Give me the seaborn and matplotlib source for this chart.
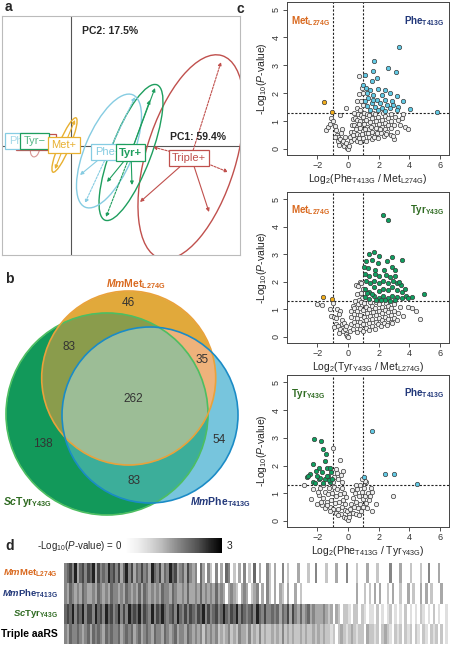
import numpy as np
import pandas as pd
import seaborn as sns
import matplotlib.pyplot as plt
from matplotlib.patches import Ellipse, Circle
from matplotlib.colors import to_rgb

sns.set_style("white")
plt.rcParams['font.family'] = ['Liberation Sans', 'DejaVu Sans']
plt.rcParams['mathtext.fontset'] = 'custom'
plt.rcParams['mathtext.rm'] = 'Liberation Sans'
plt.rcParams['mathtext.it'] = 'Liberation Sans:italic:bold'
plt.rcParams['mathtext.bf'] = 'Liberation Sans:bold'
plt.rcParams['mathtext.sf'] = 'Liberation Sans:italic'
plt.rcParams['mathtext.default'] = 'regular'

W, H = 450, 645
MET_C, PHE_C, TYR_C = '#D9691F', '#22387A', '#2F6B22'

# ---------------- data ----------------
# a: PCA groups (centre x, centre y, width, height, angle)
pca_groups = ['Triple+', 'Tyr+', 'Phe+', 'Met+']
pca_colors = ['#C0504D', '#1E9E5E', '#86CCE2', '#E8B030']
pca_ellipses = [(12.0, -1.1, 21.2, 9.0, 73), (6.0, -0.65, 14.5, 4.0, 69),
                (3.8, -0.5, 12.2, 4.8, 67), (-0.65, 0.1, 5.9, 1.1, 67)]
# group index, tip x, tip y, dashed
pca_arrows = [(0, 15.0, 8.4, True), (0, 6.9, -5.6, False), (0, 13.8, -6.6, False),
              (0, 8.4, -11.4, True), (0, 15.7, -2.6, True), (0, 8.2, -0.1, True),
              (1, 8.4, 5.8, False), (1, 7.9, 4.6, False), (1, 3.5, -7.1, True),
              (1, 6.1, -3.9, False), (1, 3.6, -3.6, False),
              (2, 6.4, 4.9, True), (2, 1.4, -5.7, True), (2, 0.9, -2.9, False),
              (3, 0.4, 2.6, False), (3, -1.6, -2.3, False)]
neg_labels = ['Triple\u2212', 'Phe\u2212', 'Tyr\u2212']
neg_colors = ['#C0504D', '#86CCE2', '#1E9E5E']

# b: Venn counts
venn_counts = [46, 83, 35, 262, 138, 54, 83]

# c: volcano plots (log2 fold change, -log10 p)
pm_gray = [(-1.42, 0.66), (-1.28, 0.78), (-1.18, 0.9), (-1.1, 1.12), (-0.97, 1.0), (-0.86, 0.82),
           (-0.78, 0.66), (-0.7, 0.5), (-0.62, 0.42), (-0.66, 0.28), (-0.52, 0.34), (-0.46, 0.56),
           (-0.4, 0.2), (-0.3, 0.3), (-0.24, 0.12), (-0.14, 0.22), (-0.08, 0.04), (0.0, 0.0),
           (0.06, 0.1), (-0.2, 0.44), (-0.56, 0.14), (-0.82, 0.42), (-0.36, 0.7),
           (-0.5, 1.22), (-0.12, 1.48), (0.72, 2.6), (0.9, 2.2), (0.96, 2.02), (0.74, 1.96),
           (0.56, 1.7), (0.86, 1.72), (0.96, 1.56), (0.62, 1.46), (0.8, 1.4), (0.42, 1.3), (0.3, 1.08),
           (0.18, 0.3), (0.2, 0.6), (0.26, 0.86), (0.12, 0.44),
           (0.38, 0.36), (0.42, 0.62), (0.4, 0.86), (0.46, 1.12), (0.34, 0.5),
           (0.58, 0.28), (0.6, 0.54), (0.62, 0.8), (0.58, 1.04), (0.66, 1.24), (0.5, 0.72),
           (0.78, 0.24), (0.8, 0.5), (0.82, 0.76), (0.78, 1.0), (0.86, 1.2), (0.7, 0.38), (0.72, 0.9),
           (0.98, 0.4), (1.0, 0.64), (1.02, 0.9), (0.98, 1.16), (1.06, 1.3), (0.92, 0.54),
           (1.18, 0.3), (1.2, 0.56), (1.22, 0.8), (1.18, 1.04), (1.26, 1.24), (1.1, 0.7),
           (1.38, 0.44), (1.4, 0.7), (1.42, 0.96), (1.4, 1.2), (1.32, 0.58),
           (1.58, 0.36), (1.6, 0.6), (1.62, 0.86), (1.58, 1.1), (1.66, 1.28), (1.5, 0.78),
           (1.78, 0.5), (1.8, 0.74), (1.82, 1.0), (1.78, 1.24), (1.7, 0.42),
           (1.98, 0.4), (2.0, 0.64), (2.02, 0.9), (1.98, 1.14), (1.9, 0.56),
           (2.18, 0.56), (2.2, 0.8), (2.22, 1.04), (2.26, 1.27), (2.1, 0.7),
           (2.38, 0.46), (2.4, 0.7), (2.42, 0.94), (2.4, 1.18),
           (2.58, 0.6), (2.6, 0.84), (2.62, 1.1), (2.5, 0.52),
           (2.78, 0.5), (2.8, 0.76), (2.82, 1.0), (2.8, 1.24),
           (3.0, 0.36), (2.94, 0.46), (3.02, 0.86), (3.06, 1.16),
           (3.3, 1.02), (3.5, 1.12), (3.7, 0.8), (3.9, 0.72), (3.62, 1.24), (3.2, 0.62), (3.4, 0.84)]
pm_right = [(3.36, 3.66), (1.7, 3.17), (2.64, 2.9), (3.12, 2.75), (1.66, 2.81), (1.11, 2.66),
            (1.92, 2.54), (1.55, 2.42), (1.0, 2.3), (1.18, 2.18), (1.44, 2.12), (1.98, 2.15),
            (2.42, 2.12), (2.75, 2.0), (1.22, 2.0), (1.66, 1.94), (2.2, 1.94), (3.18, 1.88),
            (3.62, 1.7), (1.33, 1.82), (1.87, 1.76), (2.42, 1.76), (2.85, 1.7), (1.11, 1.7),
            (1.55, 1.64), (2.09, 1.64), (2.53, 1.58), (2.96, 1.58), (3.29, 1.52), (4.05, 1.44),
            (5.8, 1.34), (1.22, 1.55), (1.76, 1.5), (2.2, 1.46), (2.75, 1.46), (3.18, 1.4),
            (1.44, 1.4), (1.98, 1.4), (2.42, 1.37), (1.66, 1.76)]
pm_left = [(-1.55, 1.67), (-1.07, 1.34)]

tm_gray = [(-2.0, 1.2), (-1.7, 1.15), (-0.95, 1.25), (-1.2, 1.0), (-1.1, 0.76), (-0.92, 0.74),
           (-0.8, 0.7), (-0.74, 1.0), (-0.5, 0.96), (-0.6, 0.82), (-0.8, 0.46), (-0.66, 0.4),
           (-0.5, 0.3), (-0.4, 0.46), (-0.3, 0.2), (-0.2, 0.3), (-0.14, 0.1), (-0.05, 0.05),
           (0.0, 0.0), (-0.36, 0.62), (-0.56, 0.16), (-0.26, 0.5), (-0.9, 0.36), (-0.1, 0.38),
           (0.55, 1.9), (0.66, 1.84), (0.76, 2.0), (0.86, 1.6), (0.6, 1.56), (0.46, 1.3),
           (0.9, 1.42), (0.7, 1.36), (0.96, 1.76), (0.3, 1.14), (0.84, 1.96),
           (0.14, 0.2), (0.18, 0.46), (0.22, 0.72), (0.2, 0.96),
           (0.36, 0.28), (0.4, 0.56), (0.42, 0.82), (0.38, 1.06),
           (0.56, 0.18), (0.6, 0.42), (0.62, 0.68), (0.58, 0.94), (0.64, 1.2),
           (0.78, 0.3), (0.8, 0.56), (0.82, 0.8), (0.78, 1.06), (0.86, 1.28),
           (0.98, 0.2), (1.0, 0.46), (1.02, 0.72), (0.98, 0.98), (1.04, 1.22),
           (1.18, 0.34), (1.2, 0.6), (1.22, 0.86), (1.18, 1.1),
           (1.38, 0.24), (1.4, 0.5), (1.42, 0.76), (1.4, 1.0), (1.46, 1.26),
           (1.58, 0.4), (1.6, 0.64), (1.62, 0.9), (1.58, 1.14),
           (1.78, 0.3), (1.8, 0.56), (1.82, 0.8), (1.78, 1.04), (1.86, 1.28),
           (1.98, 0.46), (2.0, 0.7), (2.02, 0.94), (2.0, 1.18),
           (2.18, 0.38), (2.2, 0.62), (2.22, 0.86), (2.2, 1.1),
           (2.38, 0.5), (2.4, 0.74), (2.42, 0.98), (2.46, 1.24),
           (2.58, 0.42), (2.6, 0.66), (2.62, 0.9), (2.6, 1.14),
           (2.78, 0.56), (2.8, 0.8), (2.82, 1.04),
           (2.98, 0.7), (3.0, 0.94), (3.04, 1.2), (2.9, 0.5),
           (3.2, 0.62), (3.3, 0.86), (3.4, 1.1), (3.6, 0.76), (3.9, 1.1),
           (4.2, 1.05), (4.45, 0.95), (4.7, 0.65)]
tm_right = [(2.27, 4.45), (2.6, 4.25), (4.99, 1.57), (4.2, 1.44), (3.55, 2.78), (2.85, 2.9),
            (1.7, 3.08), (1.4, 3.0), (2.05, 2.94), (1.2, 2.76), (1.55, 2.8), (2.55, 2.76),
            (1.95, 2.7), (2.85, 2.55), (3.1, 2.45), (1.3, 2.5), (1.05, 2.56), (1.75, 2.45),
            (2.35, 2.42), (1.1, 1.45), (1.1, 1.75), (1.15, 2.05), (1.1, 2.3),
            (1.4, 1.38), (1.4, 1.65), (1.45, 1.95), (1.4, 2.2),
            (1.7, 1.5), (1.7, 1.8), (1.7, 2.05), (1.75, 2.28),
            (2.0, 1.4), (2.0, 1.66), (2.0, 1.95), (2.05, 2.2),
            (2.3, 1.5), (2.3, 1.76), (2.3, 2.04), (2.5, 2.25),
            (2.6, 1.4), (2.6, 1.7), (2.6, 1.95), (2.75, 2.18),
            (2.9, 1.5), (2.9, 1.8), (2.95, 2.05), (3.2, 1.45), (3.2, 1.7), (3.2, 1.95),
            (3.5, 1.4), (3.5, 1.65), (3.45, 1.9), (3.8, 1.5), (3.7, 1.75), (3.9, 1.4),
            (3.1, 2.2), (3.35, 2.0), (1.25, 1.6), (1.55, 1.55), (1.85, 1.35), (2.15, 1.35),
            (2.45, 1.35), (2.75, 1.32), (3.05, 1.33)]
tm_left = [(-1.6, 1.45), (-1.05, 1.38)]

pt_gray = [(-2.9, 1.3), (-2.4, 0.8), (-1.0, 2.65), (-0.55, 2.2), (-0.8, 1.86), (-0.3, 1.8),
           (-0.46, 1.66), (-0.62, 1.5), (-0.9, 1.6), (-0.36, 1.4), (-0.7, 1.72), (-0.95, 1.4),
           (-2.3, 1.15), (-2.0, 0.6), (-1.9, 0.92), (-1.84, 1.18), (-1.72, 0.56), (-1.6, 0.82),
           (-1.5, 1.06), (-1.52, 0.48), (-1.4, 0.7), (-1.3, 0.96), (-1.26, 1.2), (-1.2, 0.5),
           (-1.1, 0.76), (-1.02, 1.0), (-0.96, 0.44), (-0.9, 1.24), (-0.86, 0.64), (-0.8, 0.3),
           (-0.76, 0.9), (-0.7, 1.14), (-0.62, 0.44), (-0.56, 0.7), (-0.5, 0.96), (-0.46, 0.24),
           (-0.42, 1.2), (-0.36, 0.5), (-0.3, 0.76), (-0.26, 0.14), (-0.2, 0.4), (-0.16, 0.62),
           (-0.1, 0.1), (0.0, 0.05), (0.05, 0.26), (-0.06, 0.36), (-1.66, 1.3), (-1.35, 0.58),
           (-1.15, 0.34), (-0.66, 0.2), (-0.24, 1.0), (-0.12, 0.86), (-1.98, 1.05), (-1.75, 0.7),
           (0.1, 0.15), (0.16, 0.42), (0.2, 0.62), (0.3, 0.3), (0.34, 0.82), (0.4, 0.52),
           (0.46, 1.0), (0.5, 0.24), (0.55, 0.7), (0.6, 1.15), (0.66, 0.46), (0.7, 0.9),
           (0.76, 1.3), (0.8, 0.6), (0.86, 0.36), (0.9, 1.06), (0.96, 0.8), (1.0, 0.5),
           (1.06, 1.2), (1.1, 0.9), (1.16, 0.66), (1.2, 1.4), (1.3, 1.0), (1.36, 0.76),
           (1.5, 1.2), (1.46, 0.9), (1.6, 1.05), (1.85, 0.6), (1.55, 0.35), (2.95, 0.9),
           (1.1, 1.45), (0.94, 1.5), (0.26, 1.1), (0.5, 1.3), (1.25, 0.46), (0.7, 0.2)]
pt_right = [(1.6, 3.25), (1.05, 1.58), (2.4, 1.68), (3.0, 1.68), (4.5, 1.35)]
pt_left = [(-2.2, 2.95), (-1.75, 2.9), (-1.6, 2.6), (-1.45, 2.4), (-1.5, 2.16), (-2.3, 2.05),
           (-1.9, 1.9), (-1.35, 1.9), (-2.1, 1.82), (-1.7, 1.76), (-2.45, 1.7), (-2.7, 1.6),
           (-2.58, 1.62), (-1.9, 1.5), (-1.5, 1.5), (-1.3, 1.62), (-2.3, 1.4), (-1.2, 1.4),
           (-2.15, 1.36), (-1.1, 1.76), (-1.26, 1.46), (-1.05, 1.52), (-1.8, 1.56), (-1.4, 1.64),
           (-1.62, 1.38), (-1.15, 1.9), (-2.0, 1.62)]

# d: -log10 P per protein, one digit = 1/3 unit
met_row = ("5675846757" "6847565867" "5746857465" "7564865746" "5867456475"
           "4506405305" "0406503040" "5030604005" "3040050300" "0400030050"
           "0030004000" "5000300040" "0030000500" "0400030003" "0050004000")
phe_row = ("5465454654" "4546545465" "5454654546" "4654545465" "5465445464"
           "4546454546" "4540454304" "5403450405" "3040430400" "4030000000"
           "0000000000" "0000400303" "0404003040" "0300403004" "0403000400")
tyr_row = ("6768576857" "7586758675" "6857586768" "5765857686" "5675865757"
           "6576857567" "5686576857" "6567586575" "5656465747" "5464564544"
           "4543404303" "3203303202" "2030202302" "0203020203" "2020302002")
triple_row = ("5465565456" "4656546565" "5645656456" "4565465546" "5456455465"
              "4545354545" "3434534354" "4353435343" "3434353434" "3343433434"
              "3433230343" "2343233043" "3230343203" "2303230320" "3203230302")
row_labels = [r"$\mathit{Mm}$Met$_{L274G}$", r"$\mathit{Mm}$Phe$_{T413G}$",
              r"$\mathit{Sc}$Tyr$_{Y43G}$", "Triple aaRS"]

fig = plt.figure(figsize=(W / 100, H / 100), dpi=100)

def px_rect(x0, y0, x1, y1):
    return [x0 / W, 1 - y1 / H, (x1 - x0) / W, (y1 - y0) / H]

# ---------------- a: PCA ----------------
ax = fig.add_axes(px_rect(2, 16, 240, 255))
ax.set_xlim(-6.9, 16.9)
ax.set_ylim(-10.9, 13.0)
ax.set_xticks([]); ax.set_yticks([])
for s in ax.spines.values():
    s.set_color('#BBBBBB'); s.set_linewidth(0.8)
ax.axvline(0, color='#555555', lw=0.8, zorder=1)
ax.axhline(0, color='#555555', lw=0.8, zorder=1)
ax.add_patch(Ellipse((-3.6, -0.3), 1.6, 0.9, angle=80, fill=False, ec='#C0504D', lw=0.8, alpha=0.6))
for (cx, cy, w, h, ang), c in zip(pca_ellipses, pca_colors):
    ax.add_patch(Ellipse((cx, cy), w, h, angle=ang, fill=False, ec=c, lw=1.0, zorder=2))
for g, tx, ty, dashed in pca_arrows:
    cx, cy = pca_ellipses[g][:2]
    ax.annotate('', xy=(tx, ty), xytext=(cx, cy), zorder=2,
                arrowprops=dict(arrowstyle='-|>', color=pca_colors[g], lw=0.8,
                                linestyle=(0, (2, 1.2)) if dashed else '-',
                                shrinkA=0, shrinkB=0, mutation_scale=5))
for lab, c, (x, y) in zip(neg_labels, neg_colors, [(-3.5, 0.4), (-4.9, 0.5), (-3.65, 0.5)]):
    ax.text(x, y, lab, color=c, fontsize=8, ha='center', va='center', alpha=0.75, zorder=4,
            bbox=dict(boxstyle='square,pad=0.3', fc='white', ec=c, lw=0.9))
label_pos = [(11.8, -1.2), (5.95, -0.65), (3.7, -0.6), (-0.7, 0.1)]
for i in [3, 2, 1, 0]:
    c = pca_colors[i]
    ax.text(*label_pos[i], pca_groups[i], color=c, fontsize=8, ha='center', va='center',
            zorder=5, fontweight='bold' if i == 1 else 'normal',
            bbox=dict(boxstyle='square,pad=0.3', fc='white', ec=c, lw=0.9))
ax.text(1.1, 11.5, 'PC2: 17.5%', fontsize=7.5, fontweight='bold', va='center')
ax.text(9.9, 0.9, 'PC1: 59.4%', fontsize=7.5, fontweight='bold', va='center')

# ---------------- b: Venn ----------------
vax = fig.add_axes(px_rect(0, 275, 240, 530))
venn_circles = [(107, 414, 101), (128.7, 378, 87), (150, 415, 88)]  # Tyr, Met, Phe
edge_colors = ['#4DBE62', '#E9A23B', '#1A8BC6']
region_colors = {(1, 0, 0): '#12995A', (0, 1, 0): '#E1A93C', (0, 0, 1): '#78C6DE',
                 (1, 1, 0): '#8A9D4C', (0, 1, 1): '#EEB27C', (1, 0, 1): '#3DAE9A',
                 (1, 1, 1): '#9DBE96'}
gx, gy = np.meshgrid(np.arange(0, 240, 0.5) + 0.25, np.arange(275, 530, 0.5) + 0.25)
inside = [((gx - cx) ** 2 + (gy - cy) ** 2 <= r ** 2).astype(int) for cx, cy, r in venn_circles]
img = np.ones(gx.shape + (4,))
img[..., 3] = 0
for key, col in region_colors.items():
    m = (inside[0] == key[0]) & (inside[1] == key[1]) & (inside[2] == key[2])
    img[m, :3] = to_rgb(col)
    img[m, 3] = 1
vax.imshow(img, extent=(0, 240, 530, 275), origin='upper', interpolation='bilinear', aspect='auto')
for (cx, cy, r), ec in zip(venn_circles, edge_colors):
    vax.add_patch(Circle((cx, cy), r, fill=False, ec=ec, lw=1.2))
vax.set_xlim(0, 240); vax.set_ylim(530, 275); vax.axis('off')
count_pos = [(128.3, 303), (69.3, 347), (201.7, 360), (133.3, 399), (43.3, 444), (219.3, 440), (134, 481)]
for n, (x, y) in zip(venn_counts, count_pos):
    vax.text(x, y, str(n), fontsize=8.5, color='#333333', ha='center', va='center')
vax.text(136, 284, row_labels[0], color=MET_C, fontsize=7.5, fontweight='bold', ha='center', va='center')
vax.text(3, 502, row_labels[2], color=TYR_C, fontsize=7.5, fontweight='bold', ha='left', va='center')
vax.text(190, 502, row_labels[1], color=PHE_C, fontsize=7.5, fontweight='bold', ha='left', va='center',
         clip_on=False)

# ---------------- c: volcano plots ----------------
ylab = r"-Log$_{10}$($\mathsf{P}$-value)"
volcanos = [
    (px_rect(287, 2, 449, 155), pm_gray, pm_left, pm_right, '#F2AE1C', '#62CBE6',
     ("Met$_{L274G}$", MET_C), ("Phe$_{T413G}$", PHE_C), "Log$_2$(Phe$_{T413G}$ / Met$_{L274G}$)"),
    (px_rect(287, 192, 449, 343), tm_gray, tm_left, tm_right, '#F2AE1C', '#0FA060',
     ("Met$_{L274G}$", MET_C), ("Tyr$_{Y43G}$", TYR_C), "Log$_2$(Tyr$_{Y43G}$ / Met$_{L274G}$)"),
    (px_rect(287, 375, 449, 527), pt_gray, pt_left, pt_right, '#0FA060', '#62CBE6',
     ("Tyr$_{Y43G}$", TYR_C), ("Phe$_{T413G}$", PHE_C), "Log$_2$(Phe$_{T413G}$ / Tyr$_{Y43G}$)"),
]
for rect, gray, left, right, lc, rc, (ltxt, ltc), (rtxt, rtc), xlab in volcanos:
    vx = fig.add_axes(rect)
    for pts, fc, z in [(gray, '#EEEEEE', 2), (left, lc, 3), (right, rc, 3)]:
        df = pd.DataFrame(pts, columns=['lfc', 'p'])
        sns.scatterplot(data=df, x='lfc', y='p', ax=vx, s=10, color=fc,
                        edgecolor='#3A3A3A', linewidth=0.5, zorder=z)
    for xv in (-1, 1):
        vx.axvline(xv, color='#222222', lw=0.8, ls=(0, (2, 1.5)), zorder=1)
    vx.axhline(1.3, color='#222222', lw=0.8, ls=(0, (2, 1.5)), zorder=1)
    vx.set_xlim(-3.98, 6.6); vx.set_ylim(-0.22, 5.27)
    vx.set_xticks([-2, 0, 2, 4, 6])
    vx.set_yticks(range(6))
    vx.set_yticklabels([str(i) for i in range(6)], rotation=90, va='center')
    vx.tick_params(bottom=True, left=True, length=3, width=0.6, labelsize=6.5,
                   pad=1.5, colors='#333333')
    for s in vx.spines.values():
        s.set_color('#444444'); s.set_linewidth(0.7)
    vx.set_xlabel(xlab, fontsize=7.5, labelpad=1.5)
    vx.set_ylabel(ylab, fontsize=7.5, labelpad=2)
    vx.text(-3.7, 4.6, ltxt, color=ltc, fontsize=7, fontweight='bold', va='center')
    vx.text(6.3, 4.6, rtxt, color=rtc, fontsize=7, fontweight='bold', va='center', ha='right')

# ---------------- d: heatmap ----------------
heat = np.array([[int(ch) / 3 for ch in row] for row in [met_row, phe_row, tyr_row, triple_row]])
hax = fig.add_axes(px_rect(64, 563, 448, 644))
cax = fig.add_axes(px_rect(125, 538, 222, 553))
sns.heatmap(heat, ax=hax, cmap='Greys', vmin=0, vmax=3, cbar_ax=cax,
            cbar_kws={'orientation': 'horizontal'}, xticklabels=False, yticklabels=row_labels)
hax.tick_params(left=False, bottom=False, pad=1)
for lab, c in zip(hax.get_yticklabels(), [MET_C, PHE_C, TYR_C, 'black']):
    lab.set_color(c); lab.set_fontweight('bold'); lab.set_rotation(0)
    lab.set_fontsize(7.5 if c == 'black' else 6.8)
cax.set_xticks([]); cax.set_yticks([])
hax.collections[0].colorbar.outline.set_visible(False)
fig.text(122 / W, 1 - 546 / H, r"-Log$_{10}$($\mathsf{P}$-value) = 0", fontsize=7, ha='right', va='center')
fig.text(227 / W, 1 - 546 / H, "3", fontsize=7.5, ha='left', va='center')

# panel letters
for letter, x, y in [('a', 5, 7), ('b', 5, 279), ('c', 236, 9), ('d', 5, 546)]:
    fig.text(x / W, 1 - y / H, letter, fontsize=10, fontweight='bold', va='center')

fig.savefig('out.png', dpi=100)
